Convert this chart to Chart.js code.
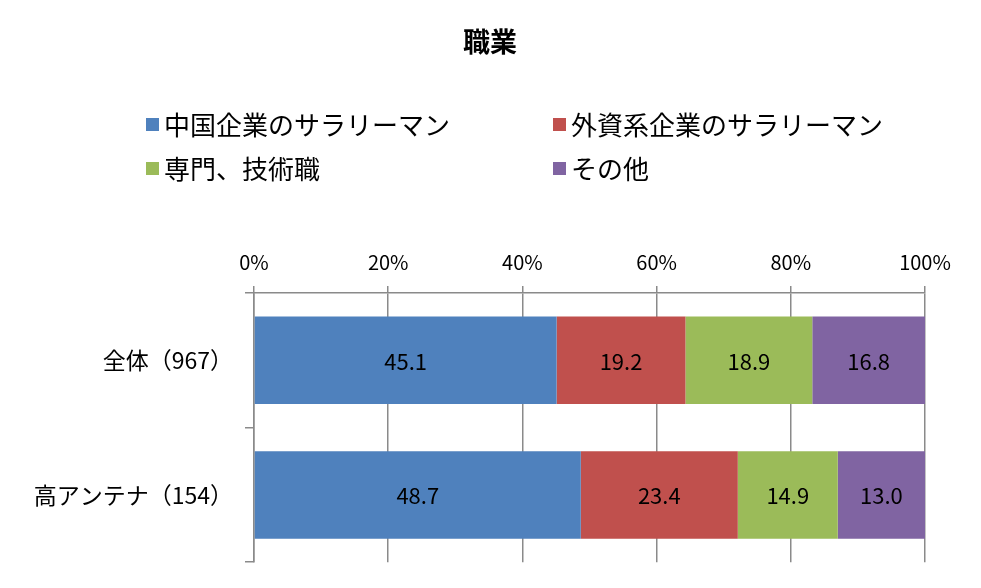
<!DOCTYPE html>
<html lang="ja">
<head>
    <meta charset="UTF-8">
    <title>職業</title>
    <script src="https://cdn.jsdelivr.net/npm/chart.js"></script>
    <style>
        body { margin: 0; background: #fff; }
        #wrap { width: 981px; height: 588px; }
    </style>
</head>
<body>
    <div id="wrap"><canvas id="jobChart" width="981" height="588"></canvas></div>

    <script>
        const categories = ["全体（967）", "高アンテナ（154）"];
        const seriesNames = ["中国企業のサラリーマン", "外資系企業のサラリーマン", "専門、技術職", "その他"];
        const chineseCompany = [45.1, 48.7];
        const foreignCompany = [19.2, 23.4];
        const specialist = [18.9, 14.9];
        const other = [16.8, 13.0];
        const tickLabels = ["0%", "20%", "40%", "60%", "80%", "100%"];

        const colors = ["#4F81BD", "#C0504D", "#9BBB59", "#8064A2"];
        const fontFamily = "'Noto Sans CJK JP', 'Noto Sans', sans-serif";

        // title + 2x2 legend drawn on the canvas
        const headerPlugin = {
            id: 'header',
            afterDraw(chart) {
                const ctx = chart.ctx;
                ctx.save();
                ctx.fillStyle = '#000';
                ctx.font = "bold 27px " + fontFamily;
                ctx.textAlign = 'center';
                ctx.textBaseline = 'middle';
                ctx.fillText("職業", 490, 42);

                const cols = [146, 553];
                const rows = [124, 168];
                ctx.font = "26px " + fontFamily;
                ctx.textAlign = 'left';
                chart.data.datasets.forEach((ds, i) => {
                    const x = cols[i % 2];
                    const y = rows[Math.floor(i / 2)];
                    ctx.fillStyle = ds.backgroundColor;
                    ctx.fillRect(x, y - 6, 13, 13);
                    ctx.fillStyle = '#000';
                    ctx.fillText(ds.label, x + 18, y + 1);
                });
                ctx.restore();
            }
        };

        // value labels in the middle of each segment
        const valueLabels = {
            id: 'valueLabels',
            afterDatasetsDraw(chart) {
                const ctx = chart.ctx;
                ctx.save();
                ctx.font = "22px " + fontFamily;
                ctx.fillStyle = '#000';
                ctx.textAlign = 'center';
                ctx.textBaseline = 'middle';
                chart.data.datasets.forEach((ds, i) => {
                    chart.getDatasetMeta(i).data.forEach((bar, j) => {
                        const p = bar.getProps(['x', 'y', 'base'], true);
                        ctx.fillText(ds.data[j].toFixed(1), (p.x + p.base) / 2, p.y + 1);
                    });
                });
                ctx.restore();
            }
        };

        const values = [chineseCompany, foreignCompany, specialist, other];

        new Chart(document.getElementById('jobChart'), {
            type: 'bar',
            data: {
                labels: categories,
                datasets: seriesNames.map((name, i) => ({
                    label: name,
                    data: values[i],
                    backgroundColor: colors[i],
                    borderWidth: 0,
                    categoryPercentage: 1,
                    barPercentage: 0.65
                }))
            },
            options: {
                indexAxis: 'y',
                responsive: false,
                animation: false,
                layout: { padding: { top: 233, right: 56, bottom: 14, left: 0 } },
                plugins: {
                    legend: { display: false },
                    title: { display: false },
                    tooltip: { enabled: false }
                },
                scales: {
                    x: {
                        position: 'top',
                        stacked: true,
                        min: 0,
                        max: 100,
                        afterFit(scale) { scale.height = 60; },
                        afterBuildTicks(scale) {
                            scale.ticks = tickLabels.map(t => ({ value: parseFloat(t) }));
                        },
                        ticks: {
                            callback: (v, i) => tickLabels[i],
                            font: { family: fontFamily, size: 20 },
                            color: '#000',
                            padding: 12,
                            maxRotation: 0
                        },
                        grid: { color: '#8a8a8a', lineWidth: 1.5, tickLength: 7 },
                        border: { color: '#8a8a8a', width: 1.5 }
                    },
                    y: {
                        stacked: true,
                        afterFit(scale) { scale.width = 254; },
                        ticks: {
                            font: { family: fontFamily, size: 23 },
                            color: '#000',
                            padding: 12
                        },
                        grid: { offset: true, drawOnChartArea: false, color: '#8a8a8a', lineWidth: 1.5, tickLength: 9 },
                        border: { color: '#8a8a8a', width: 1.5 }
                    }
                }
            },
            plugins: [headerPlugin, valueLabels]
        });
    </script>
</body>
</html>
